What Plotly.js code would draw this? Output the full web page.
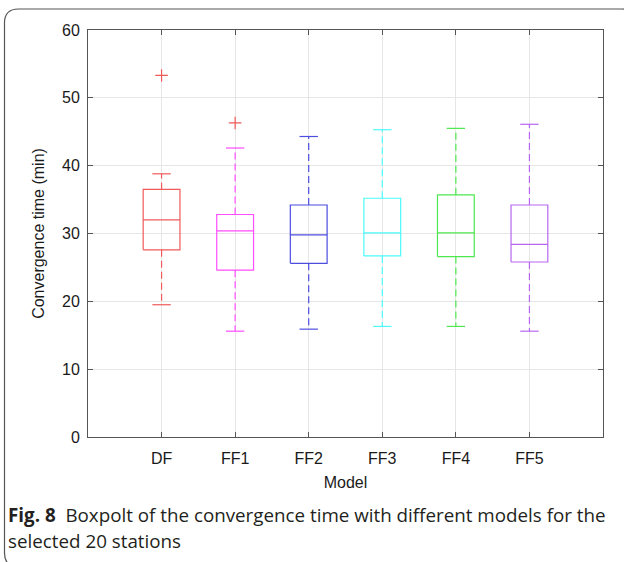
<!DOCTYPE html>
<html>
<head>
<meta charset="utf-8">
<script src="https://cdn.plot.ly/plotly-3.0.1.min.js"></script>
<style>
  html, body { margin: 0; padding: 0; background: #fff; }
  #chart { width: 624px; height: 562px; }
</style>
</head>
<body>
<div id="chart"></div>
<script>
// ---- data ----
const categories = ['DF', 'FF1', 'FF2', 'FF3', 'FF4', 'FF5'];
const lowerWhisker = [19.5, 15.6, 15.9, 16.3, 16.3, 15.6];
const q1 = [27.6, 24.6, 25.6, 26.7, 26.6, 25.8];
const median = [32.0, 30.4, 29.8, 30.1, 30.1, 28.4];
const q3 = [36.5, 32.8, 34.2, 35.2, 35.7, 34.2];
const upperWhisker = [38.8, 42.6, 44.3, 45.3, 45.5, 46.1];
const outlierModel = ['DF', 'FF1'];
const outlierValue = [53.3, 46.3];
const yTicks = [0, 10, 20, 30, 40, 50, 60];

// ---- styling ----
const colors = ['#f05a5a', '#ff4dff', '#4d4de0', '#4dfafa', '#4de84d', '#b866f0'];
const halfBox = 0.25;
const halfCap = 0.125;
const lw = 1.2;

const traces = [];
categories.forEach((cat, i) => {
  const p = i + 1;
  const c = colors[i];
  traces.push({
    type: 'scatter', mode: 'lines', hoverinfo: 'skip', showlegend: false,
    x: [p - halfBox, p + halfBox, p + halfBox, p - halfBox, p - halfBox],
    y: [q1[i], q1[i], q3[i], q3[i], q1[i]],
    line: { color: c, width: lw }
  });
  traces.push({
    type: 'scatter', mode: 'lines', hoverinfo: 'skip', showlegend: false,
    x: [p - halfBox, p + halfBox],
    y: [median[i], median[i]],
    line: { color: c, width: lw }
  });
  traces.push({
    type: 'scatter', mode: 'lines', hoverinfo: 'skip', showlegend: false,
    x: [p, p, null, p, p],
    y: [q3[i], upperWhisker[i], null, q1[i], lowerWhisker[i]],
    line: { color: c, width: lw, dash: '7px,4px' },
    connectgaps: false
  });
  traces.push({
    type: 'scatter', mode: 'lines', hoverinfo: 'skip', showlegend: false,
    x: [p - halfCap, p + halfCap, null, p - halfCap, p + halfCap],
    y: [upperWhisker[i], upperWhisker[i], null, lowerWhisker[i], lowerWhisker[i]],
    line: { color: c, width: lw },
    connectgaps: false
  });
});
traces.push({
  type: 'scatter', mode: 'markers', hoverinfo: 'skip', showlegend: false,
  x: outlierModel.map(m => categories.indexOf(m) + 1),
  y: outlierValue,
  marker: { symbol: 'cross-thin-open', size: 9, color: colors[0], line: { color: colors[0], width: 1.2 } }
});

const axisFont = { family: 'Liberation Sans, Arial, sans-serif', size: 16, color: '#1a1a1a' };

const W = 624, H = 562;
const mL = 88, mR = 21, mT = 30, mB = 125;
const plotW = W - mL - mR, plotH = H - mT - mB;
const px2x = px => (px - mL) / plotW;
const py2y = py => (H - mB - py) / plotH;

const layout = {
  width: W, height: H,
  margin: { l: mL, r: mR, t: mT, b: mB, pad: 0 },
  paper_bgcolor: '#ffffff',
  plot_bgcolor: '#ffffff',
  showlegend: false,
  font: axisFont,
  xaxis: {
    range: [0, categories.length + 1],
    tickmode: 'array',
    tickvals: categories.map((c, i) => i + 1),
    ticktext: categories,
    ticks: 'inside', ticklen: 5, tickcolor: '#555',
    showline: true, linecolor: '#555', linewidth: 1, mirror: 'ticks',
    showgrid: true, gridcolor: '#e6e6e6', gridwidth: 1,
    zeroline: false,
    tickfont: axisFont,
    ticklabelstandoff: 7,
    title: { text: 'Model', font: axisFont, standoff: 10 }
  },
  yaxis: {
    range: [0, 60],
    tickmode: 'array',
    tickvals: yTicks,
    ticks: 'inside', ticklen: 5, tickcolor: '#555',
    showline: true, linecolor: '#555', linewidth: 1, mirror: 'ticks',
    showgrid: true, gridcolor: '#e6e6e6', gridwidth: 1,
    zeroline: false,
    tickfont: axisFont,
    ticklabelstandoff: 4,
    title: { text: 'Convergence time (min)', font: axisFont, standoff: 13 }
  },
  shapes: [{
    type: 'path', xref: 'paper', yref: 'paper', layer: 'below',
    path: (() => {
      const x0 = 4.5, y0 = 9, x1 = 636, y1 = 567, r = 14;
      const X = v => px2x(v), Y = v => py2y(v);
      return `M ${X(x0)} ${Y(y0 + r)} Q ${X(x0)} ${Y(y0)} ${X(x0 + r)} ${Y(y0)} ` +
             `L ${X(x1 - r)} ${Y(y0)} Q ${X(x1)} ${Y(y0)} ${X(x1)} ${Y(y0 + r)} ` +
             `L ${X(x1)} ${Y(y1 - r)} Q ${X(x1)} ${Y(y1)} ${X(x1 - r)} ${Y(y1)} ` +
             `L ${X(x0 + r)} ${Y(y1)} Q ${X(x0)} ${Y(y1)} ${X(x0)} ${Y(y1 - r)} Z`;
    })(),
    line: { color: '#555555', width: 1.2 },
    fillcolor: 'rgba(0,0,0,0)'
  }],
  annotations: [
    {
      xref: 'paper', yref: 'paper', x: px2x(6), y: py2y(515),
      xanchor: 'left', yanchor: 'middle', showarrow: false, align: 'left',
      text: '<b>Fig. 8</b>  Boxpolt of the convergence time with different models for the',
      font: { family: 'Open Sans, Noto Sans, sans-serif', size: 18.8, color: '#231f20' }
    },
    {
      xref: 'paper', yref: 'paper', x: px2x(6), y: py2y(541),
      xanchor: 'left', yanchor: 'middle', showarrow: false, align: 'left',
      text: 'selected 20 stations',
      font: { family: 'Open Sans, Noto Sans, sans-serif', size: 18.8, color: '#231f20' }
    }
  ]
};

Plotly.newPlot('chart', traces, layout, { staticPlot: true, displayModeBar: false });
</script>
</body>
</html>
